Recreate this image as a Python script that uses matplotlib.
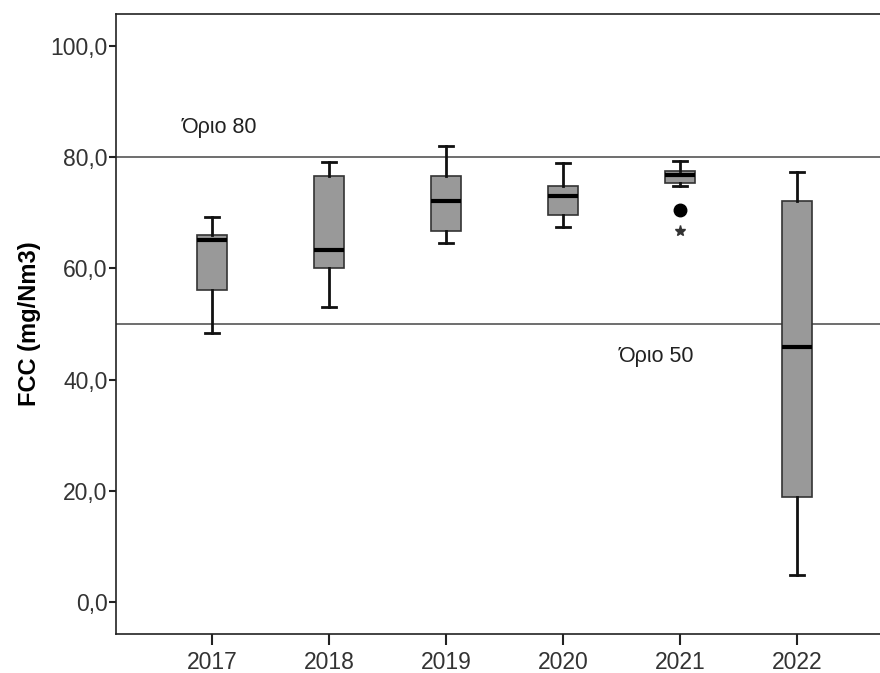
import matplotlib.pyplot as plt

plt.rcParams['font.family'] = ['Liberation Sans', 'DejaVu Sans']

# Boxplot summary values
years = ['2017', '2018', '2019', '2020', '2021', '2022']
whislo = [48.4, 53.1, 64.5, 67.5, 74.9, 4.9]
q1 = [56.2, 60.1, 66.8, 69.7, 75.4, 18.9]
med = [65.1, 63.3, 72.2, 73.0, 76.8, 45.9]
q3 = [66.0, 76.6, 76.6, 74.9, 77.6, 72.1]
whishi = [69.2, 79.2, 82.0, 79.0, 79.4, 77.4]

# outliers (circle) and extreme values (star)
outliers = [[], [], [], [], [70.6], []]
extremes = [[], [], [], [], [66.8], []]

limits = [80, 50]
limit_labels = ['Όριο 80', 'Όριο 50']

stats = []
for i in range(len(years)):
    stats.append({'label': years[i], 'whislo': whislo[i], 'q1': q1[i], 'med': med[i],
                  'q3': q3[i], 'whishi': whishi[i], 'fliers': []})

fig = plt.figure(figsize=(8.8, 6.73), dpi=100)
ax = fig.add_axes([116 / 880, 39 / 673, 777 / 880, 620 / 673])

pos = list(range(len(years)))
ax.bxp(stats, positions=pos, widths=0.26, patch_artist=True, showfliers=False,
       boxprops=dict(facecolor='#999999', edgecolor='#333333', linewidth=1.2),
       medianprops=dict(color='black', linewidth=3),
       whiskerprops=dict(color='#111111', linewidth=2),
       capprops=dict(color='#111111', linewidth=2),
       capwidths=0.12)

for i in pos:
    if outliers[i]:
        ax.plot([i] * len(outliers[i]), outliers[i], 'o', color='black', markersize=9)
    if extremes[i]:
        ax.plot([i] * len(extremes[i]), extremes[i], '*', color='#333333', markersize=8)

for v in limits:
    ax.axhline(v, color='#555555', linewidth=1.2, zorder=0)

ax.text(-0.26, 85.4, limit_labels[0], fontsize=15.5, color='#222222', va='center')
ax.text(3.48, 44.2, limit_labels[1], fontsize=15.5, color='#222222', va='center')

ax.set_xlim(-0.82, 5.82)
ax.set_ylim(-5.8, 105.8)
ax.set_yticks([0, 20, 40, 60, 80, 100])
ax.set_yticklabels(['0,0', '20,0', '40,0', '60,0', '80,0', '100,0'])
ax.set_xticks(pos)
ax.set_xticklabels(years)
ax.tick_params(axis='both', labelsize=16.5, colors='#222222', width=1.5)
ax.tick_params(axis='y', labelcolor='#333333', length=5, pad=1)
ax.tick_params(axis='x', labelcolor='#333333', length=8, pad=4)
ax.set_ylabel('FCC (mg/Nm3)', fontsize=17, fontweight='bold', labelpad=7)
for s in ax.spines.values():
    s.set_linewidth(1.2)
    s.set_color('#222222')

plt.savefig('out.png', dpi=100)
